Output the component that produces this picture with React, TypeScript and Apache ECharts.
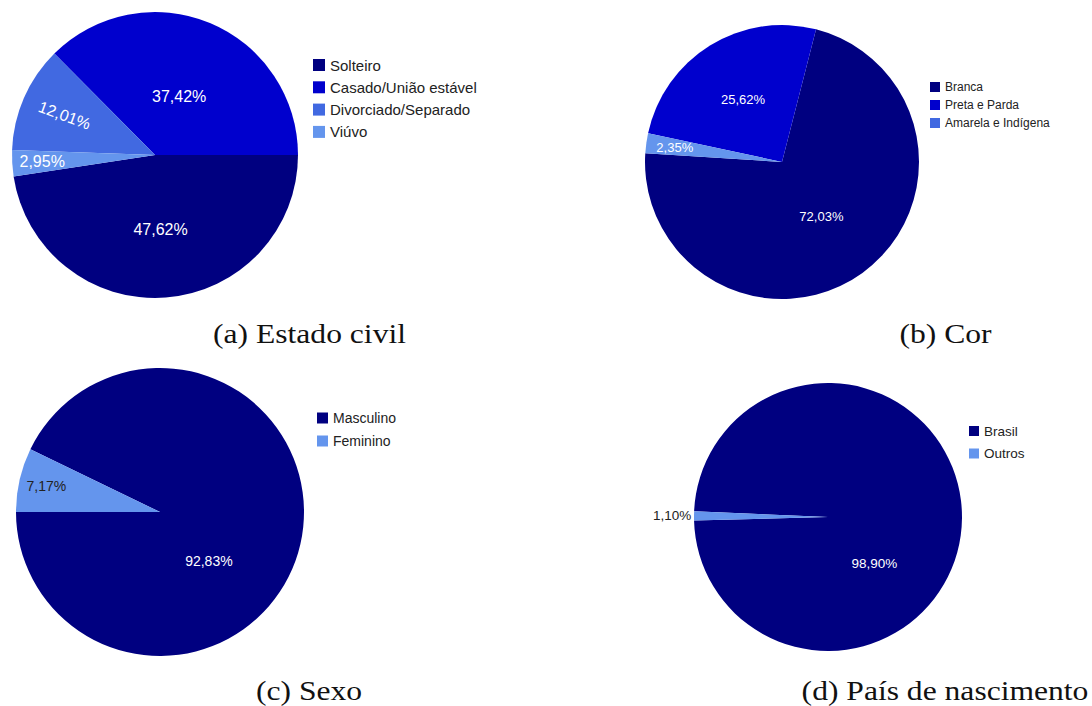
import React, { useEffect, useRef } from "react";
import * as echarts from "echarts";

// ---------- data ----------
const estadoCivilNames = ["Solteiro", "Casado/União estável", "Divorciado/Separado", "Viúvo"];
const estadoCivilValues = [47.62, 37.42, 12.01, 2.95];

const corNames = ["Branca", "Preta e Parda", "Amarela e Indígena"];
const corValues = [72.03, 25.62, 2.35];

const sexoNames = ["Masculino", "Feminino"];
const sexoValues = [92.83, 7.17];

const paisNames = ["Brasil", "Outros"];
const paisValues = [98.9, 1.1];

const captions = ["(a) Estado civil", "(b) Cor", "(c) Sexo", "(d) País de nascimento"];

// ---------- styles ----------
const NAVY = "#000080";
const MED = "#0000CD";
const ROYAL = "#4169E1";
const CORN = "#6495ED";
const SANS = "'Liberation Sans', Arial, sans-serif";
const SERIF = "'Liberation Serif', 'Times New Roman', serif";

type Panel = {
  names: string[];
  values: number[];
  colors: string[];
  legendColors: string[];
  center: [number, number];
  radius: number;
  startAngle: number;
  labelSize: number;
  labelDist: number[];
  labelAngle: (number | null)[];
  labelColor: string[];
  labelAlign: string[];
  labelRotate: (number | null)[];
  legend: { left: number; top: number; size: number; font: number; gap: number };
};

const panels: Panel[] = [
  {
    names: estadoCivilNames,
    values: estadoCivilValues,
    colors: [NAVY, MED, ROYAL, CORN],
    legendColors: [NAVY, MED, ROYAL, CORN],
    center: [155, 155],
    radius: 143,
    startAngle: 188.6,
    labelSize: 16,
    labelDist: [0.52, 0.44, 0.69, 0.79],
    labelAngle: [null, null, null, null],
    labelColor: ["#fff", "#fff", "#fff", "#fff"],
    labelAlign: ["center", "center", "center", "center"],
    labelRotate: [null, null, -20, null],
    legend: { left: 313, top: 57.5, size: 12, font: 15, gap: 7.3 },
  },
  {
    names: corNames,
    values: corValues,
    colors: [NAVY, MED, CORN],
    legendColors: [NAVY, MED, ROYAL],
    center: [782, 162],
    radius: 137,
    startAngle: 176.3,
    labelSize: 13,
    labelDist: [0.49, 0.54, 0.79],
    labelAngle: [null, null, null],
    labelColor: ["#fff", "#fff", "#fff"],
    labelAlign: ["center", "center", "center"],
    labelRotate: [null, null, null],
    legend: { left: 930, top: 81, size: 10, font: 12, gap: 6 },
  },
  {
    names: sexoNames,
    values: sexoValues,
    colors: [NAVY, CORN],
    legendColors: [NAVY, CORN],
    center: [160, 512],
    radius: 144,
    startAngle: 180,
    labelSize: 14,
    labelDist: [0.48, 0.81],
    labelAngle: [315, null],
    labelColor: ["#fff", "#222"],
    labelAlign: ["center", "center"],
    labelRotate: [null, null],
    legend: { left: 317, top: 411, size: 11, font: 14, gap: 9 },
  },
  {
    names: paisNames,
    values: paisValues,
    colors: [NAVY, CORN],
    legendColors: [NAVY, CORN],
    center: [828, 517],
    radius: 134,
    startAngle: 181.5,
    labelSize: 13.5,
    labelDist: [0.49, 1.02],
    labelAngle: [315, null],
    labelColor: ["#fff", "#222"],
    labelAlign: ["center", "right"],
    labelRotate: [null, null],
    legend: { left: 969, top: 424, size: 10, font: 13.5, gap: 8.5 },
  },
];

const captionPos: [number, number][] = [
  [309.5, 334],
  [945.5, 334],
  [309, 691],
  [945, 691],
];

const fmt = (v: number) => v.toFixed(2).replace(".", ",") + "%";

function buildOption() {
  const series = panels.map((p) => {
    const total = p.values.reduce((a, b) => a + b, 0);
    return {
      type: "pie",
      silent: true,
      center: p.center,
      radius: p.radius,
      startAngle: p.startAngle,
      clockwise: false,
      avoidLabelOverlap: false,
      emphasis: { disabled: true },
      itemStyle: { borderWidth: 0 },
      labelLine: { show: false },
      label: {
        show: true,
        position: "inside",
        fontSize: p.labelSize,
        fontFamily: SANS,
        formatter: (params: any) => fmt(params.value),
      },
      labelLayout: (params: any) => {
        const i = params.dataIndex;
        let cum = 0;
        for (let j = 0; j < i; j++) cum += p.values[j];
        const mid = p.startAngle + ((cum + p.values[i] / 2) / total) * 360;
        const angDeg = p.labelAngle[i] != null ? (p.labelAngle[i] as number) : mid;
        const a = (angDeg * Math.PI) / 180;
        const d = p.labelDist[i] * p.radius;
        return {
          x: p.center[0] + d * Math.cos(a),
          y: p.center[1] - d * Math.sin(a),
          align: p.labelAlign[i],
          verticalAlign: "middle",
        };
      },
      data: p.names.map((n, i) => ({
        name: n,
        value: p.values[i],
        itemStyle: { color: p.colors[i] },
        label:
          p.labelRotate[i] != null
            ? { color: p.labelColor[i], rotate: p.labelRotate[i] }
            : { color: p.labelColor[i] },
      })),
    };
  });

  const legend = panels.map((p) => ({
    type: "plain",
    orient: "vertical",
    left: p.legend.left,
    top: p.legend.top,
    padding: 0,
    itemWidth: p.legend.size,
    itemHeight: p.legend.size,
    itemGap: p.legend.gap,
    icon: "rect",
    selectedMode: false,
    textStyle: { fontSize: p.legend.font, color: "#222", fontFamily: SANS },
    data: p.names.map((n, i) => ({ name: n, itemStyle: { color: p.legendColors[i] } })),
  }));

  const graphic = captions.map((c, i) => ({
    type: "text",
    x: captionPos[i][0],
    y: captionPos[i][1],
    scaleX: 1.17,
    silent: true,
    style: {
      text: c,
      fontSize: 27,
      fontFamily: SERIF,
      fill: "#111",
      align: "center",
      verticalAlign: "middle",
    },
  }));

  return {
    animation: false,
    backgroundColor: "#fff",
    legend,
    series,
    graphic,
  };
}

export default function App() {
  const ref = useRef<HTMLDivElement>(null);
  useEffect(() => {
    if (!ref.current) return;
    const chart = echarts.init(ref.current, undefined, { renderer: "svg" });
    chart.setOption(buildOption() as any);
    return () => chart.dispose();
  }, []);
  return (
    <div
      ref={ref}
      style={{ position: "fixed", left: 0, top: 0, width: 1092, height: 706, background: "#fff" }}
    />
  );
}
